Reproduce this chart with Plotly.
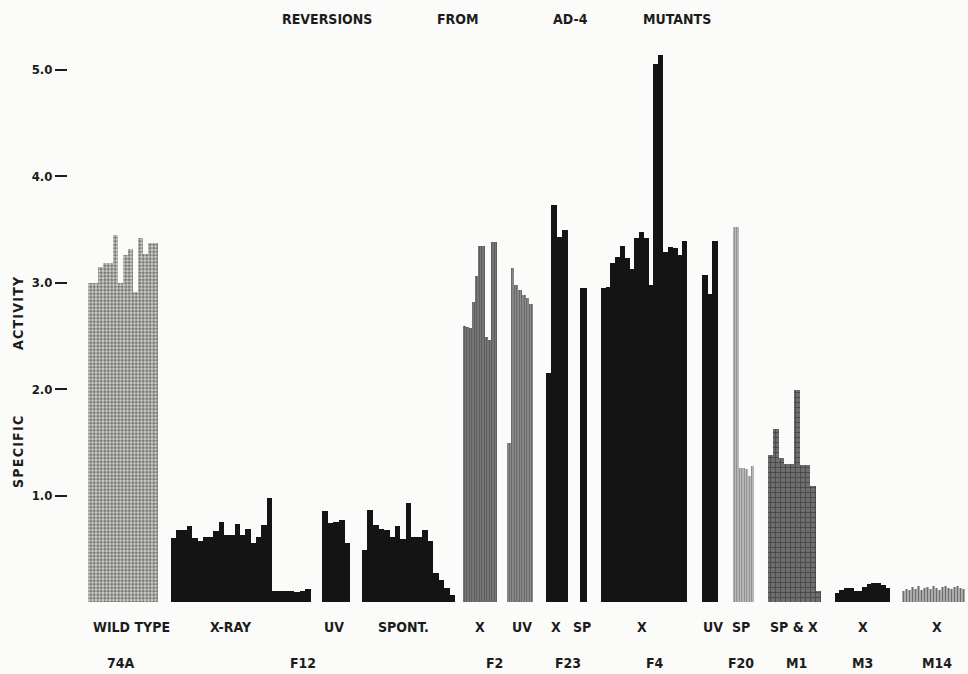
import plotly.graph_objects as go

# ---------------- data (specific activity) ----------------
wild_74a = [3.00, 3.00, 3.15, 3.18, 3.18, 3.45, 3.00, 3.26, 3.31, 2.91, 3.42, 3.27, 3.37, 3.37]
f12_xray = [0.60, 0.68, 0.68, 0.71, 0.60, 0.57, 0.61, 0.61, 0.67, 0.75, 0.63, 0.63,
            0.73, 0.63, 0.69, 0.55, 0.61, 0.72, 0.98]
f12_xray_low = [0.10, 0.10, 0.10, 0.10, 0.09, 0.10, 0.12]
f12_uv = [0.85, 0.74, 0.75, 0.77, 0.55]
f12_spont = [0.49, 0.86, 0.72, 0.69, 0.68, 0.61, 0.71, 0.59, 0.93, 0.61, 0.61, 0.68,
             0.57, 0.27, 0.21, 0.13, 0.07]
f2_x = [2.59, 2.58, 2.57, 2.82, 3.06, 3.34, 3.34, 2.49, 2.46, 3.38, 3.38]
f2_uv = [1.49, 3.14, 2.98, 2.93, 2.88, 2.85, 2.80]
f23_x = [2.15, 3.73, 3.43, 3.49]
f23_sp = [2.95]
f4_x = [2.95, 2.96, 3.18, 3.24, 3.34, 3.23, 3.13, 3.42, 3.47, 3.42, 2.98, 5.05, 5.14,
        3.29, 3.33, 3.32, 3.26, 3.39]
f20_uv = [3.07, 2.89, 3.39]
f20_sp = [3.52, 3.52, 1.26, 1.26, 1.25, 1.18, 1.28]
m1_spx = [1.38, 1.62, 1.35, 1.30, 1.30, 1.99, 1.29, 1.29, 1.09, 0.10]
m3_x = [0.08, 0.11, 0.13, 0.13, 0.10, 0.10, 0.14, 0.17, 0.18, 0.18, 0.16, 0.13]
m14_x = [0.10, 0.12, 0.11, 0.14, 0.12, 0.15, 0.11, 0.13, 0.14, 0.12, 0.15, 0.13,
         0.11, 0.14, 0.15, 0.13, 0.12, 0.14, 0.15, 0.13, 0.12]

treatment_labels = ["WILD TYPE", "X-RAY", "UV", "SPONT.", "X", "UV", "X", "SP", "X",
                    "UV", "SP", "SP & X", "X", "X"]
strain_labels = ["74A", "F12", "F2", "F23", "F4", "F20", "M1", "M3", "M14"]
title_words = ["REVERSIONS", "FROM", "AD-4", "MUTANTS"]
y_title_words = ["SPECIFIC", "ACTIVITY"]
y_ticks = [1.0, 2.0, 3.0, 4.0, 5.0]
y_tick_text = ["1.0", "2.0", "3.0", "4.0", "5.0"]

# ---------------- layout (pixel geometry of the figure) ----------------
W, H = 968, 674
L, R, T, B = 68, 0, 40, 72          # plot area: x 68..968, y 40..602
UNIT_PX = 106.5                       # pixels per 1.0 of activity
y_top = (H - T - B) / UNIT_PX

STYLES = {
    "dots":   dict(color="#c9c9c5", pattern=dict(shape=".", fgcolor="#151515", bgcolor="#d4d4d0",
                                                 size=3.5, solidity=0.55, fillmode="overlay")),
    "black":  dict(color="#141414"),
    "stripe": dict(color="#6a6a6a", pattern=dict(shape="|", fgcolor="#1a1a1a", bgcolor="#8a8a8a",
                                                 size=2.5, solidity=0.55, fillmode="overlay")),
    "stripe2": dict(color="#777", pattern=dict(shape="|", fgcolor="#1e1e1e", bgcolor="#9a9a9a",
                                               size=2.5, solidity=0.5, fillmode="overlay")),
    "light":  dict(color="#aaa", pattern=dict(shape="|", fgcolor="#333", bgcolor="#c8c8c8",
                                              size=2.5, solidity=0.45, fillmode="overlay")),
    "cross":  dict(color="#555", pattern=dict(shape="+", fgcolor="#1c1c1c", bgcolor="#6e6e6e",
                                              size=5, solidity=0.3, fillmode="overlay")),
    "thin":   dict(color="#aaa", pattern=dict(shape="|", fgcolor="#222", bgcolor="#bdbdbd",
                                              size=3, solidity=0.5, fillmode="overlay")),
}

# each group: values, pixel span along the horizontal, style
groups = [
    (wild_74a, (88, 158), "dots"),
    (f12_xray, (171, 272), "black"),
    (f12_xray_low, (272, 311), "black"),
    (f12_uv, (322, 350), "black"),
    (f12_spont, (362, 455), "black"),
    (f2_x, (463, 497), "stripe"),
    (f2_uv, (507, 533), "stripe2"),
    (f23_x, (546, 568), "black"),
    (f23_sp, (580, 587), "black"),
    (f4_x, (601, 687), "black"),
    (f20_uv, (702, 718), "black"),
    (f20_sp, (733, 754), "light"),
    (m1_spx, (768, 821), "cross"),
    (m3_x, (835, 890), "black"),
    (m14_x, (902, 965), "thin"),
]

treatment_x = [131, 231, 334, 403, 480, 522, 556, 582, 642, 713, 741, 794, 863, 937]
strain_x = [121, 303, 494, 568, 655, 741, 796, 862, 937]
title_x = [327, 458, 570, 677]
y_title_y = [452, 313]

FONT = "DejaVu Sans Condensed, Liberation Sans Narrow, Arial Narrow, sans-serif"
INK = "#1c1c1c"

fig = go.Figure()
for vals, (a, b), style in groups:
    n = len(vals)
    pitch = (b - a) / n
    xs = [a + pitch * (i + 0.5) for i in range(n)]
    ws = [pitch + (0.35 if style == "black" else 0.05)] * n
    st = STYLES[style]
    marker = dict(color=st["color"], line=dict(width=0))
    if "pattern" in st:
        marker["pattern"] = st["pattern"]
    fig.add_trace(go.Bar(x=xs, y=vals, width=ws, marker=marker,
                         showlegend=False, hoverinfo="skip"))


def px_x(p):
    return (p - L) / (W - L - R)


def px_y(p):
    return (H - B - p) / (H - T - B)


def bold(s):
    return f"<b>{s}</b>"


def spaced(s):
    return "\u200a".join(s)


def label(txt, xp, yp, size=14, angle=0):
    return dict(text=bold(txt), x=px_x(xp), y=px_y(yp), xref="paper", yref="paper",
                showarrow=False, xanchor="center", yanchor="middle", textangle=angle,
                font=dict(family=FONT, size=size, color=INK))


ann = []
for txt, xp in zip(treatment_labels, treatment_x):
    ann.append(label(txt, xp, 627))
for txt, xp in zip(strain_labels, strain_x):
    ann.append(label(txt, xp, 663))
for txt, xp in zip(title_words, title_x):
    ann.append(label(txt, xp, 19, size=14))
for txt, yp in zip(y_title_words, y_title_y):
    ann.append(label(spaced(txt), 18, yp, size=14, angle=-90))

fig.update_layout(
    width=W, height=H,
    margin=dict(l=L, r=R, t=T, b=B, pad=0),
    paper_bgcolor="#fbfbf9", plot_bgcolor="#fbfbf9",
    barmode="overlay", bargap=0,
    annotations=ann,
    xaxis=dict(range=[L, W - R], visible=False, fixedrange=True),
    yaxis=dict(range=[0, y_top], tickvals=y_ticks, ticktext=[bold(t) for t in y_tick_text],
               ticks="outside", ticklen=12, tickwidth=1.8, tickcolor=INK,
               showgrid=False, zeroline=False, showline=False, fixedrange=True,
               tickfont=dict(family=FONT, size=13, color=INK)),
)

fig.write_html("out.html", config={"displayModeBar": False},
               post_script="document.body.style.margin='0px';document.body.style.overflow='hidden';")
